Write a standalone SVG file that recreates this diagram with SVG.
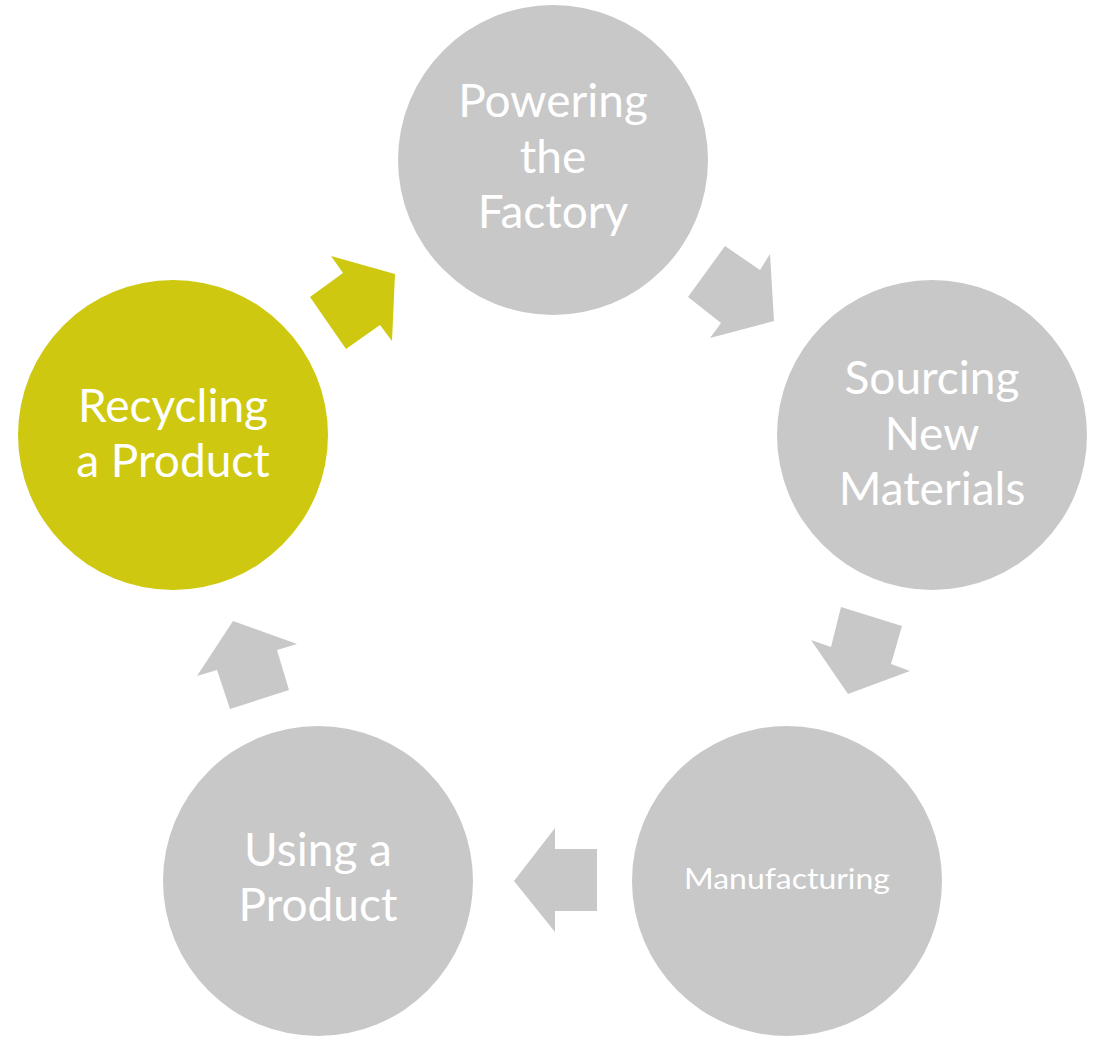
<svg xmlns="http://www.w3.org/2000/svg" width="1102" height="1040" viewBox="0 0 1102 1040">
<style>
.g{fill:#C8C8C8}
.y{fill:#CEC910}
.t{fill:#FFFFFF;font-family:Lato,"Open Sans",sans-serif;font-size:46px;text-anchor:middle}
.s{font-size:28px}
</style>
<rect width="1102" height="1040" fill="#FFFFFF"/>
<g id="connectors">
<polygon class="y" points="331,256 395,274 392,341 380,325 346,349 310,297 343,273"/>
<polygon class="g" points="725,246 760,270 770,254 774,321 710,338 721,323 688,297"/>
<polygon class="g" points="841,607 902,626 891,664 910,671 848,694 811,640 831,647"/>
<polygon class="g" points="555,828 555,849 597,849 597,911 555,911 555,932 514,881"/>
<polygon class="g" points="233,621 297,644 277,650 289,690 230,709 217,670 197,676"/>
</g>
<g id="node-powering">
<circle class="g" cx="553" cy="160" r="155"/>
<text class="t" x="553" y="117">Powering</text>
<text class="t" x="553" y="173">the</text>
<text class="t" x="553" y="228">Factory</text>
</g>
<g id="node-sourcing">
<circle class="g" cx="932" cy="435" r="155"/>
<text class="t" x="932" y="394">Sourcing</text>
<text class="t" x="932" y="450">New</text>
<text class="t" x="932" y="505">Materials</text>
</g>
<g id="node-manufacturing">
<circle class="g" cx="787" cy="881" r="155"/>
<text class="t s" x="787" y="889" textLength="206" lengthAdjust="spacingAndGlyphs">Manufacturing</text>
</g>
<g id="node-using">
<circle class="g" cx="318" cy="881" r="155"/>
<text class="t" x="318" y="866">Using a</text>
<text class="t" x="318" y="921">Product</text>
</g>
<g id="node-recycling">
<circle class="y" cx="173" cy="435" r="155"/>
<text class="t" x="173" y="422">Recycling</text>
<text class="t" x="173" y="477">a Product</text>
</g>
</svg>
